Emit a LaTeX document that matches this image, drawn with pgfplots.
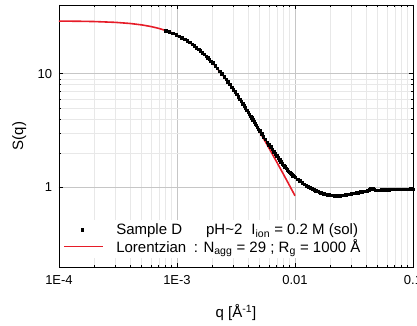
\documentclass[border=0pt]{standalone}
\usepackage{fontspec}
\setmainfont{Liberation Sans}
\usepackage{pgfplots}
\pgfplotsset{compat=1.18}
\usetikzlibrary{calc}
\definecolor{fitred}{RGB}{230,28,40}
\pgfplotsset{
  linelegend/.style={legend image code/.code={\path[draw=none,fill=none] (0cm,0cm) -- (1.75cm,0cm);\draw[##1] (0cm,0cm) -- (1.35cm,0cm);}},
  marklegend/.style={legend image code/.code={\path[draw=none,fill=none] (0cm,0cm) -- (1.75cm,0cm);\draw[##1] plot coordinates {(0.62cm,0cm)};}}
}
\begin{document}
\fontsize{11}{13}\selectfont
\begin{tikzpicture}
\begin{axis}[
  scale only axis,
  width=354pt, height=262pt,
  xmode=log, ymode=log,
  xmin=1e-4, xmax=0.1, ymin=0.2, ymax=40,
  xtick={1e-4,1e-3,1e-2,1e-1},
  xticklabels={1E-4,1E-3,0.01,0.1},
  ytick={1,10}, yticklabels={1,10},
  tick align=inside,
  major tick length=4pt, minor tick length=2.5pt,
  every tick/.style={black, line width=0.5pt},
  axis line style={black, line width=0.7pt},
  grid=both,
  major grid style={gray!45, line width=0.5pt},
  minor grid style={gray!18, line width=0.4pt},
  ticklabel style={font=\fontsize{13}{15}\selectfont},
  xticklabel style={yshift=-5pt},
  yticklabel style={xshift=-3pt},
  xlabel={q [Å\textsuperscript{-1}]},
  ylabel={S(q)},
  label style={font=\fontsize{15}{17}\selectfont},
  xlabel style={yshift=-12pt},
  ylabel style={yshift=4pt},
  legend cell align=left,
  legend style={at={(axis cs:1.05e-4,0.24)}, anchor=south west, draw=none, fill=white,
    font=\fontsize{15}{17}\selectfont, row sep=-1pt, inner xsep=2pt, inner ysep=2pt},
]
\addplot[only marks, mark=square*, mark size=1.25pt, black, marklegend]
coordinates {
(0.00080,23.90) (0.00086,23.26) (0.00092,22.62) (0.00098,21.97) (0.00104,21.32)
(0.00110,20.67) (0.00116,20.02) (0.00122,19.38) (0.00128,18.76) (0.00134,18.14)
(0.00140,17.54) (0.00146,16.95) (0.00152,16.38) (0.00158,15.83) (0.00164,15.29)
(0.00170,14.77) (0.00176,14.27) (0.00182,13.78) (0.00188,13.31) (0.00194,12.86)
(0.00200,12.43) (0.00210,11.74) (0.00220,11.10) (0.00230,10.49) (0.00240,9.93)
(0.00250,9.41) (0.00260,8.91) (0.00270,8.45) (0.00280,8.03) (0.00290,7.62)
(0.00300,7.25) (0.00310,6.90) (0.00320,6.57) (0.00330,6.26) (0.00340,5.98)
(0.00350,5.70) (0.00360,5.45) (0.00370,5.21) (0.00380,4.99) (0.00390,4.78)
(0.00400,4.59) (0.00410,4.41) (0.00420,4.24) (0.00430,4.08) (0.00440,3.92)
(0.00450,3.78) (0.00460,3.64) (0.00470,3.51) (0.00480,3.38) (0.00490,3.26)
(0.00500,3.15) (0.00520,2.96) (0.00540,2.79) (0.00560,2.64) (0.00580,2.50)
(0.00600,2.38) (0.00620,2.27) (0.00640,2.16) (0.00660,2.06) (0.00680,1.97)
(0.00700,1.89) (0.00720,1.82) (0.00740,1.75) (0.00760,1.68) (0.00780,1.62)
(0.00800,1.57) (0.00820,1.52) (0.00840,1.47) (0.00860,1.43) (0.00880,1.39)
(0.00900,1.36) (0.00920,1.33) (0.00940,1.30) (0.00960,1.27) (0.00980,1.25)
(0.01000,1.23) (0.01050,1.18) (0.01100,1.14) (0.01150,1.10) (0.01200,1.07)
(0.01250,1.04) (0.01300,1.015) (0.01350,0.99) (0.01400,0.97) (0.01450,0.955)
(0.01500,0.94) (0.01550,0.925) (0.01600,0.912) (0.01650,0.90) (0.01700,0.89)
(0.01750,0.882) (0.01800,0.875) (0.01850,0.869) (0.01900,0.864) (0.01950,0.86)
(0.02000,0.856) (0.02050,0.853) (0.02100,0.851) (0.02150,0.849) (0.02200,0.848)
(0.02250,0.847) (0.02300,0.847) (0.02350,0.848) (0.02400,0.849) (0.02450,0.851)
(0.02500,0.853) (0.02600,0.857) (0.02700,0.862) (0.02800,0.868) (0.02900,0.874)
(0.03000,0.880) (0.03100,0.886) (0.03200,0.892) (0.03300,0.898) (0.03400,0.903)
(0.03500,0.908) (0.03600,0.913) (0.03700,0.918) (0.03800,0.922) (0.03900,0.926)
(0.04000,0.930) (0.04100,0.935) (0.04200,0.945) (0.04300,0.960) (0.04400,0.975)
(0.04500,0.985) (0.04600,0.980) (0.04700,0.960) (0.04800,0.945) (0.04900,0.942)
(0.05000,0.944) (0.05200,0.947) (0.05400,0.950) (0.05600,0.953) (0.05800,0.955)
(0.06000,0.957) (0.06200,0.959) (0.06400,0.960) (0.06600,0.962) (0.06800,0.963)
(0.07000,0.964) (0.07200,0.965) (0.07400,0.966) (0.07600,0.966) (0.07800,0.967)
(0.08000,0.967) (0.08200,0.967) (0.08400,0.967) (0.08600,0.967) (0.08800,0.966)
(0.09000,0.966) (0.09200,0.966) (0.09400,0.966) (0.09600,0.965) (0.09800,0.965)
(0.10000,0.965)
};
\addlegendentry{Sample D\hspace{1.6em}pH\textasciitilde2\hspace{0.6em}I\textsubscript{ion} = 0.2 M (sol)}
\addplot[fitred, line width=1.6pt, linelegend]
coordinates {
(0.00010,28.90) (0.00015,28.78) (0.00020,28.62) (0.00030,28.16) (0.00040,27.53)
(0.00050,26.77) (0.00060,25.89) (0.00070,24.93) (0.00080,23.90) (0.00090,22.83)
(0.00100,21.75) (0.00120,19.59) (0.00140,17.54) (0.00160,15.65) (0.00180,13.94)
(0.00200,12.43) (0.00250,9.41) (0.00300,7.25) (0.00350,5.71) (0.00400,4.58)
(0.00450,3.74) (0.00500,3.107) (0.00600,2.231) (0.00700,1.673) (0.00800,1.299)
(0.00900,1.036) (0.01000,0.845)
};
\addlegendentry{Lorentzian\hspace{0.5em}: N\textsubscript{agg} = 29 ; R\textsubscript{g} = 1000 Å}
\end{axis}
\pgfresetboundingbox
\path[use as bounding box] ($(current axis.south west)+(-59pt,-59pt)$) rectangle ($(current axis.north east)+(4pt,5pt)$);
\end{tikzpicture}
\end{document}
